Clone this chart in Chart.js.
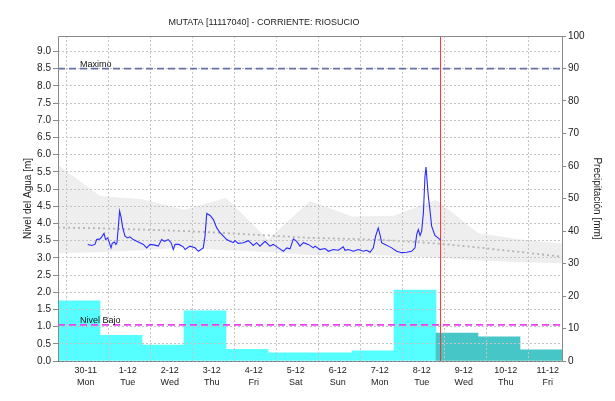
<!DOCTYPE html>
<html>
<head>
<meta charset="utf-8">
<script src="https://cdn.jsdelivr.net/npm/chart.js@4.4.1/dist/chart.umd.min.js"></script>
<style>
  html, body { margin: 0; padding: 0; background: #fff; }
  #wrap { width: 615px; height: 401px; position: relative; }
</style>
</head>
<body>
<div id="wrap"><canvas id="chart"></canvas></div>
<script>
const chartTitle = "MUTATA [11117040] - CORRIENTE: RIOSUCIO";

// one entry per day, grid line at 00:00 of that day (hour 0 = 30-11 00:00)
const dayDates = ["30-11", "1-12", "2-12", "3-12", "4-12", "5-12", "6-12", "7-12", "8-12", "9-12", "10-12", "11-12"];
const dayNames = ["Mon", "Tue", "Wed", "Thu", "Fri", "Sat", "Sun", "Mon", "Tue", "Wed", "Thu", "Fri"];

const levelTicks = [0, 0.5, 1, 1.5, 2, 2.5, 3, 3.5, 4, 4.5, 5, 5.5, 6, 6.5, 7, 7.5, 8, 8.5, 9];
const rainTicks = [0, 10, 20, 30, 40, 50, 60, 70, 80, 90, 100];

// rain [mm] for the 24h ending 07:00 of each date above
const rainObserved = [18.5, 7.9, 4.9, 15.4, 3.6, 2.5, 2.5, 3.1, 21.8];
const rainForecast = [8.6, 7.4, 3.4];

// level envelope at 07:00 each day, from 29-11 to 11-12
const bandUpper = [5.7, 4.8, 4.7, 4.4, 4.74, 3.53, 4.65, 4.2, 4.22, 4.69, 3.72, 3.53, 3.42];
const bandLower = [3.13, 3.16, 3.22, 3.3, 3.22, 3.17, 3.08, 3.1, 3.06, 3.0, 2.93, 2.87, 2.84];
const bandMean = [3.88, 3.86, 3.82, 3.78, 3.72, 3.65, 3.58, 3.55, 3.5, 3.42, 3.3, 3.17, 3.03];

// observed water level: hours since 30-11 00:00 and meters
const levelHours = [0, 2.2, 4.1, 5.1, 7, 8, 9.3, 10.2, 11.4, 12.1, 13.3, 14, 15.2, 16.1, 16.7, 17.5, 18.2, 19, 20, 21.3,
  22.8, 24.1, 26, 28.9, 31.8, 33.7, 35.6, 38.4, 40.3, 42.2, 43.8, 46, 47.6, 48.9, 49.9, 52.1, 54.6, 55.6, 58.4, 61.3,
  63.2, 66, 67, 68, 69.9, 71.8, 73.7, 75.6, 77.5, 79.4, 81.3, 83.2, 84.1, 86, 88.9, 91.8, 94.6, 96.5, 98.4, 101.3,
  104.1, 106, 108.9, 111.8, 113.7, 115.6, 117.5, 119.4, 121.3, 123.2, 126, 128.9, 129.9, 132.7, 135.6, 137.5, 140.3, 143.2, 146, 147,
  148.9, 151.8, 154.6, 157.5, 159.4, 161.3, 163.2, 164.5, 166, 167.2, 167.9, 169.9, 171.8, 173.7, 176.5, 179.4, 182.2, 185.1, 187, 188,
  188.9, 189.9, 190.8, 191.8, 192.7, 193.3, 194, 194.6, 195.6, 196.5, 198.4, 200.7, 201.6];
const levelMeters = [3.39, 3.36, 3.39, 3.53, 3.55, 3.61, 3.71, 3.53, 3.58, 3.48, 3.29, 3.42, 3.46, 3.39, 3.44, 3.92, 4.36, 4.19, 3.87, 3.63,
  3.58, 3.61, 3.53, 3.46, 3.39, 3.29, 3.39, 3.37, 3.34, 3.53, 3.48, 3.53, 3.44, 3.24, 3.39, 3.39, 3.32, 3.24, 3.34, 3.29,
  3.19, 3.29, 3.63, 4.29, 4.23, 4.11, 3.87, 3.73, 3.63, 3.53, 3.48, 3.44, 3.5, 3.42, 3.44, 3.5, 3.36, 3.44, 3.34, 3.48,
  3.34, 3.39, 3.29, 3.19, 3.29, 3.26, 3.55, 3.48, 3.34, 3.44, 3.39, 3.29, 3.34, 3.24, 3.27, 3.19, 3.24, 3.22, 3.32, 3.22,
  3.24, 3.19, 3.24, 3.19, 3.22, 3.16, 3.29, 3.63, 3.87, 3.63, 3.44, 3.39, 3.34, 3.29, 3.19, 3.15, 3.16, 3.19, 3.29, 3.68,
  3.82, 3.65, 3.77, 4.31, 5.37, 5.64, 5.18, 4.79, 4.36, 3.92, 3.65, 3.56, 3.52];

const levelMax = 8.5;   // Maximo
const levelLow = 1.05;  // Nivel Bajo
const nowHour = 201.6;  // 8-12 ~09:35

const xMin = -17, xMax = 271;

Chart.defaults.font.family = "'Liberation Sans', Arial, sans-serif";
Chart.defaults.font.size = 10;
Chart.defaults.color = "#222";

const rain = rainObserved.concat(rainForecast);
const rainColors = rain.map((v, i) => (i < rainObserved.length ? "#55ffff" : "#46c6c6"));
const bandX = (i) => i * 24 - 17;

// these datasets are drawn after the grid (which sits above the bars)
const onTop = [3, 2, 1, 0];

// plot frame, title and reference-line labels
const frame = {
  id: "frame",
  beforeDatasetDraw(chart, args) {
    if (onTop.includes(args.index)) return false;
  },
  afterDraw(chart) {
    const { ctx, chartArea: a, scales } = chart;
    onTop.forEach((i) => chart.getDatasetMeta(i).controller.draw());
    const l = Math.round(a.left) + 0.5, r = Math.round(a.right) + 0.5;
    const t = Math.round(a.top) + 0.5, b = Math.round(a.bottom) + 0.5;
    ctx.save();
    ctx.strokeStyle = "#8a8a8a";
    ctx.lineWidth = 1;
    ctx.beginPath();
    ctx.moveTo(l, b);
    ctx.lineTo(l, t);
    ctx.lineTo(r, t);
    ctx.lineTo(r, b);
    ctx.stroke();
    ctx.strokeStyle = "#333";
    ctx.setLineDash([1, 1]);
    ctx.beginPath();
    ctx.moveTo(l, b);
    ctx.lineTo(r, b);
    ctx.stroke();
    ctx.setLineDash([]);
    ctx.fillStyle = "#222";
    ctx.textBaseline = "middle";
    ctx.textAlign = "center";
    ctx.font = "9px 'Liberation Sans', Arial, sans-serif";
    ctx.fillText(chartTitle, 264, 23);
    ctx.textAlign = "left";
    ctx.fillStyle = "#111";
    ctx.fillText("Maximo", a.left + 22, scales.y.getPixelForValue(levelMax) - 4);
    ctx.fillText("Nivel Bajo", a.left + 22, scales.y.getPixelForValue(levelLow) - 4);
    ctx.restore();
  },
};

new Chart(document.getElementById("chart"), {
  type: "line",
  data: {
    datasets: [
      {
        label: "Nivel",
        data: levelHours.map((h, i) => ({ x: h, y: levelMeters[i] })),
        borderColor: "#2a2aff",
        borderWidth: 1.1,
        pointRadius: 0,
        order: 0,
      },
      {
        label: "Ahora",
        data: [{ x: nowHour, y: 0 }, { x: nowHour, y: 9.45 }],
        borderColor: "#ff3030",
        borderWidth: 1,
        pointRadius: 0,
        order: 1,
      },
      {
        label: "Maximo",
        data: [{ x: xMin, y: levelMax }, { x: xMax, y: levelMax }],
        borderColor: "#6670a6",
        borderWidth: 1.6,
        borderDash: [7, 4],
        pointRadius: 0,
        order: 2,
      },
      {
        label: "Nivel Bajo",
        data: [{ x: xMin, y: levelLow }, { x: xMax, y: levelLow }],
        borderColor: "#f040f0",
        borderWidth: 1.8,
        borderDash: [7, 4],
        pointRadius: 0,
        order: 2,
      },
      {
        label: "Media",
        data: bandMean.map((v, i) => ({ x: bandX(i), y: v })),
        borderColor: "#b4b4b4",
        borderWidth: 1.8,
        borderDash: [2, 3],
        pointRadius: 0,
        order: 3,
      },
      {
        label: "Max hist",
        data: bandUpper.map((v, i) => ({ x: bandX(i), y: v })),
        borderWidth: 0,
        borderColor: "rgba(0,0,0,0)",
        backgroundColor: "#eeeeee",
        fill: "+1",
        pointRadius: 0,
        order: 4,
      },
      {
        label: "Min hist",
        data: bandLower.map((v, i) => ({ x: bandX(i), y: v })),
        borderWidth: 0,
        borderColor: "rgba(0,0,0,0)",
        pointRadius: 0,
        order: 5,
      },
      {
        type: "bar",
        label: "Precipitacion",
        yAxisID: "y2",
        data: rain.map((v, i) => ({ x: i * 24 - 5, y: v })),
        backgroundColor: rainColors,
        borderWidth: 0,
        barPercentage: 1,
        categoryPercentage: 1,
        order: 6,
      },
    ],
  },
  options: {
    responsive: true,
    maintainAspectRatio: false,
    animation: false,
    layout: { padding: { top: 36 } },
    plugins: {
      legend: { display: false },
      tooltip: { enabled: false },
      title: { display: false },
    },
    scales: {
      x: {
        type: "linear",
        min: xMin,
        max: xMax,
        offset: false,
        afterBuildTicks: (s) => {
          s.ticks = dayDates.map((d, i) => ({ value: i * 24 }));
        },
        afterFit: (s) => {
          s.height = 40;
        },
        ticks: {
          autoSkip: false,
          maxRotation: 0,
          padding: 3,
          labelOffset: -2,
          font: { size: 9, lineHeight: 1.4 },
          callback: (v) => {
            const i = Math.round(v / 24);
            return [dayDates[i], dayNames[i]];
          },
        },
        grid: { color: "#c4c4c4", drawTicks: false, z: 1 },
        border: { display: false, dash: [2, 2] },
      },
      y: {
        position: "left",
        min: 0,
        max: 9.45,
        afterBuildTicks: (s) => {
          s.ticks = levelTicks.map((v) => ({ value: v }));
        },
        afterFit: (s) => {
          s.width = 58;
        },
        ticks: { padding: 2, callback: (v) => Number(v).toFixed(1) },
        grid: { color: "#c4c4c4", tickLength: 5, tickColor: "#8a8a8a", tickBorderDash: [], z: 1 },
        border: { display: false, dash: [2, 2] },
        title: { display: true, text: "Nivel del Agua [m]", font: { size: 10 }, padding: { top: 22, bottom: 0 } },
      },
      y2: {
        position: "right",
        min: 0,
        max: 100,
        afterBuildTicks: (s) => {
          s.ticks = rainTicks.map((v) => ({ value: v }));
        },
        afterFit: (s) => {
          s.width = 53;
        },
        ticks: { padding: 2 },
        grid: { drawOnChartArea: false, tickLength: 4, tickColor: "#8a8a8a" },
        border: { display: false },
        title: { display: true, text: "Precipitación [mm]", font: { size: 10 }, padding: { top: 12, bottom: 0 } },
      },
    },
  },
  plugins: [frame],
});
</script>
</body>
</html>
